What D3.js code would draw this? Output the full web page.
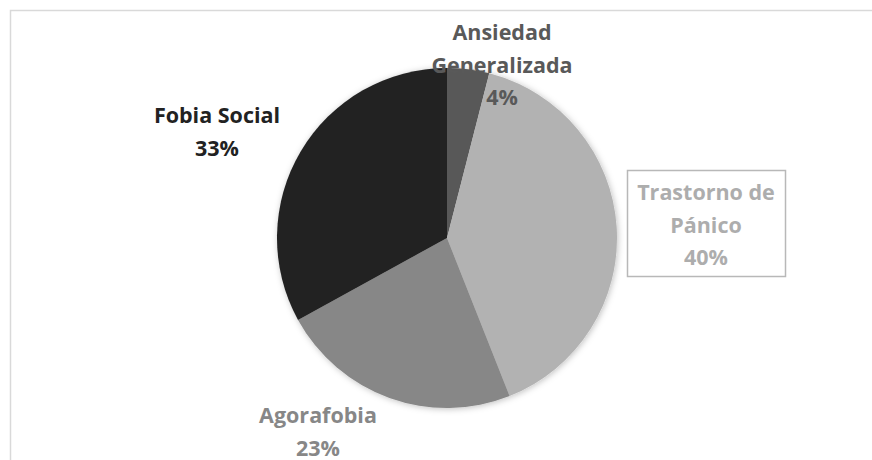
<!DOCTYPE html>
<html>
<head>
<meta charset="utf-8">
<script src="https://cdn.jsdelivr.net/npm/d3@7"></script>
<style>
  body { margin: 0; background: #fff; }
  svg { display: block; }
</style>
</head>
<body>
<script>
	// chart data
	const categories = ["Ansiedad Generalizada", "Trastorno de Pánico", "Agorafobia", "Fobia Social"];
	const values = [4, 40, 23, 33];
	const labelLines = [["Ansiedad", "Generalizada", "4%"], ["Trastorno de", "Pánico", "40%"], ["Agorafobia", "23%"], ["Fobia Social", "33%"]];
	const sliceColors = ["#595959", "#b2b2b2", "#878787", "#222222"];
	const textColors = ["#595959", "#adadad", "#878787", "#222222"];

	// size and pie placement
	let w = 872;
	let h = 460;
	let cx = 447;
	let cy = 238;
	let r = 170;

	// where each label block sits (center x, first baseline)
	const labelPos = [[502, 40], [706, 200], [318, 423], [217, 123]];
	const lineH = 32.5;

	const svg = d3.select("body")
		.append("svg")
		.attr("width", w)
		.attr("height", h);

	// outer chart border (continues past the right and bottom edges)
	svg.append("rect")
		.attr("x", 10.5)
		.attr("y", 10.5)
		.attr("width", w + 20)
		.attr("height", h + 20)
		.attr("fill", "#fff")
		.attr("stroke", "#d9d9d9")
		.attr("stroke-width", 1.5);

	// soft shadow under the pie
	const defs = svg.append("defs");
	defs.append("filter")
		.attr("id", "shadow")
		.attr("x", "-20%").attr("y", "-20%")
		.attr("width", "140%").attr("height", "140%")
		.append("feDropShadow")
		.attr("dx", 1).attr("dy", 1)
		.attr("stdDeviation", 3)
		.attr("flood-color", "#000")
		.attr("flood-opacity", 0.25);

	const pie = d3.pie().sort(null).value((d) => d);
	const arc = d3.arc().innerRadius(0).outerRadius(r);

	const g = svg.append("g")
		.attr("transform", "translate(" + cx + "," + cy + ")")
		.attr("filter", "url(#shadow)");

	g.selectAll("path")
		.data(pie(values))
		.enter()
		.append("path")
		.attr("d", arc)
		.attr("fill", (d, i) => sliceColors[i])
		.append("title")
		.text((d, i) => categories[i] + " " + values[i] + "%");

	// labels
	const labels = svg.selectAll("g.label")
		.data(labelLines)
		.enter()
		.append("g")
		.attr("class", "label");

	labels.each(function (lines, i) {
		const t = d3.select(this).append("text")
			.attr("text-anchor", "middle")
			.attr("font-family", "'Open Sans', sans-serif")
			.attr("font-weight", "bold")
			.attr("font-size", 21.5)
			.attr("fill", textColors[i]);
		lines.forEach((s, j) => {
			t.append("tspan")
				.attr("x", labelPos[i][0])
				.attr("y", labelPos[i][1] + j * lineH)
				.text(s);
		});
	});

	// box round the Trastorno de Pánico label
	svg.append("rect")
		.attr("x", 627.5)
		.attr("y", 170.5)
		.attr("width", 158)
		.attr("height", 106)
		.attr("fill", "none")
		.attr("stroke", "#b8b8b8")
		.attr("stroke-width", 1.5);
</script>
</body>
</html>
